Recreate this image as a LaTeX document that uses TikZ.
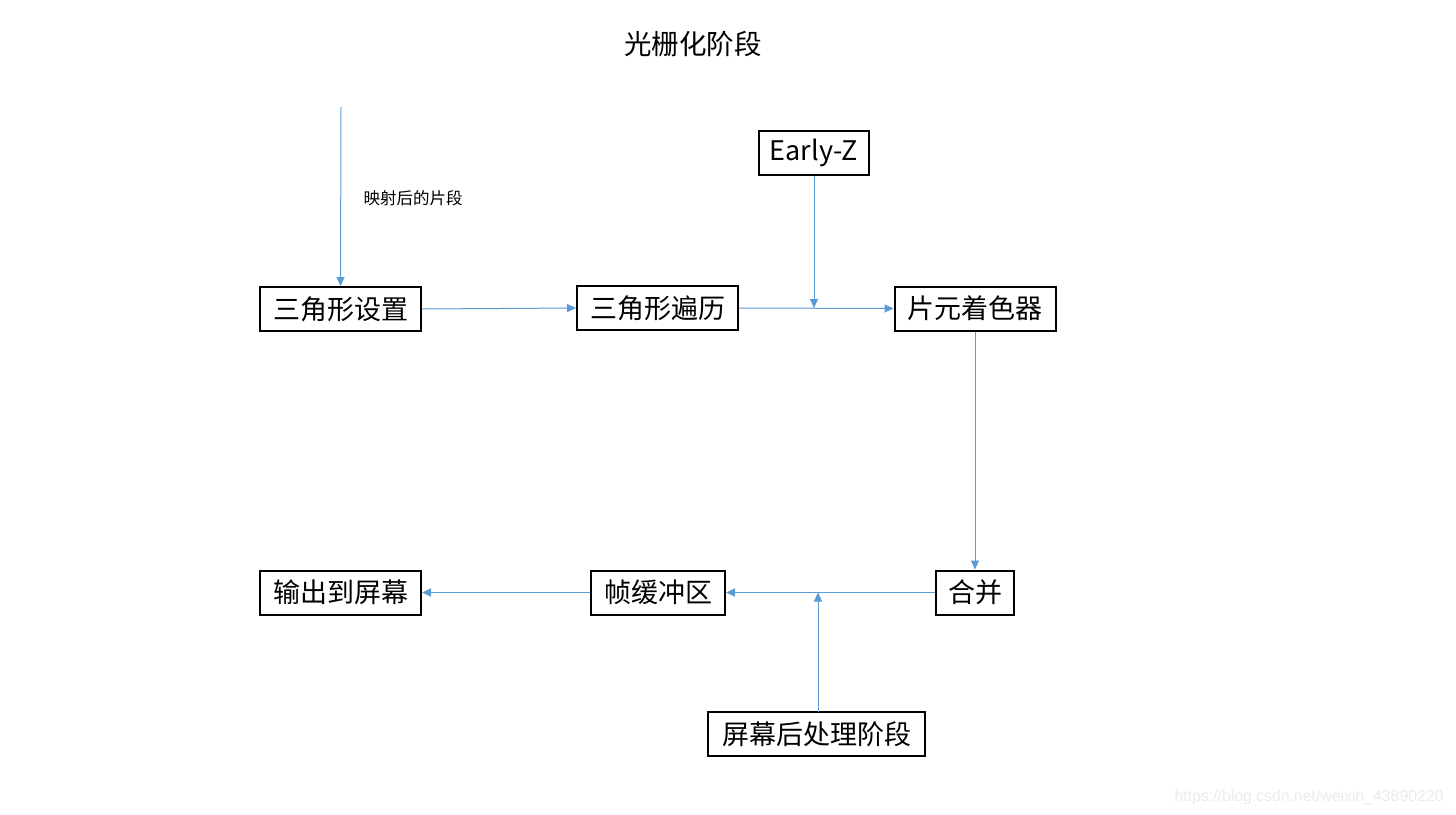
\documentclass[tikz,border=0pt]{standalone}
\usepackage{fontspec}
\setmainfont{Noto Sans CJK SC}
\newfontfamily\wmfont{Liberation Sans}
\usetikzlibrary{arrows.meta}
\definecolor{linkblue}{HTML}{5B9BD5}
\definecolor{wmgray}{HTML}{EBEBEB}
\tikzset{
  box/.style={draw=black, line width=2pt, minimum height=44pt, inner xsep=11pt, inner ysep=0pt, font=\fontsize{27}{30}\selectfont, text=black},
  arr/.style={draw=linkblue, line width=1pt, -{Triangle[length=9pt,width=8pt]}},
  ln/.style={draw=linkblue, line width=1pt}
}
\begin{document}
\begin{tikzpicture}[x=1pt,y=-1pt]
\useasboundingbox[fill=white] (0,0) rectangle (1456,814);
\node[font=\fontsize{27.5}{30}\selectfont] (title) at (693,44) {光栅化阶段};
\node[box, minimum width=161pt] (a) at (340.5,309) {三角形设置};
\node[box, minimum width=161pt] (b) at (657.5,308) {三角形遍历};
\node[box, minimum width=108pt] (ez) at (814,153) {Early-Z};
\node[box, minimum width=161pt] (c) at (975,308.5) {片元着色器};
\node[box, minimum width=78pt] (m) at (975,592.5) {合并};
\node[box, minimum width=134pt] (f) at (658,592.5) {帧缓冲区};
\node[box, minimum width=161pt] (o) at (340.5,592.5) {输出到屏幕};
\node[box, minimum width=217pt] (p) at (816.5,734) {屏幕后处理阶段};
\node[font=\fontsize{16.5}{18}\selectfont, anchor=west] (lbl) at (360,198) {映射后的片段};
\node[font=\wmfont\fontsize{15.8}{18}\selectfont, text=wmgray, anchor=east] (wm) at (1447,797) {https://blog.csdn.net/weixin\_43890220};
\coordinate (s) at (341,107);
\draw[arr] (s) -- (a.north);
\draw[arr] (a.east) -- (b.west);
\draw[arr] (b.east) -- (c.west);
\coordinate (j) at (ez.south |- b.east);
\draw[arr] (ez.south) -- (j);
\draw[arr] (c.south) -- (m.north);
\draw[arr] (m.west) -- (f.east);
\draw[arr] (f.west) -- (o.east);
\coordinate (k) at (818,592.5);
\coordinate (pk) at (818,712);
\draw[arr] (pk) -- (k);
\end{tikzpicture}
\end{document}
